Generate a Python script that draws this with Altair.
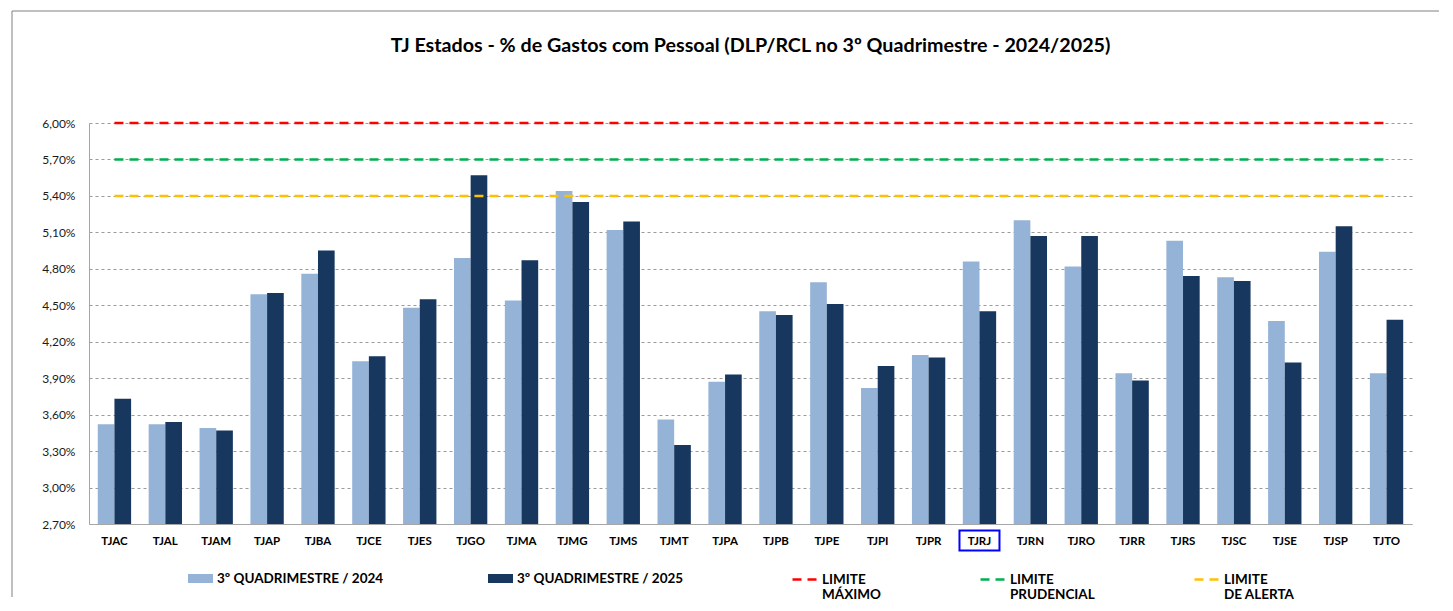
import altair as alt
import pandas as pd

categories = ["TJAC", "TJAL", "TJAM", "TJAP", "TJBA", "TJCE", "TJES", "TJGO", "TJMA",
              "TJMG", "TJMS", "TJMT", "TJPA", "TJPB", "TJPE", "TJPI", "TJPR", "TJRJ",
              "TJRN", "TJRO", "TJRR", "TJRS", "TJSC", "TJSE", "TJSP", "TJTO"]
q2024 = [3.52, 3.52, 3.49, 4.59, 4.76, 4.04, 4.48, 4.89, 4.54, 5.44, 5.12, 3.56, 3.87,
         4.45, 4.69, 3.82, 4.09, 4.86, 5.20, 4.82, 3.94, 5.03, 4.73, 4.37, 4.94, 3.94]
q2025 = [3.73, 3.54, 3.47, 4.60, 4.95, 4.08, 4.55, 5.57, 4.87, 5.35, 5.19, 3.35, 3.93,
         4.42, 4.51, 4.00, 4.07, 4.45, 5.07, 5.07, 3.88, 4.74, 4.70, 4.03, 5.15, 4.38]
series_names = ["3º QUADRIMESTRE / 2024", "3º QUADRIMESTRE / 2025"]
limit_names = ["LIMITE MÁXIMO", "LIMITE PRUDENCIAL", "LIMITE DE ALERTA"]
limit_values = [6.00, 5.70, 5.40]
y_ticks = [2.70, 3.00, 3.30, 3.60, 3.90, 4.20, 4.50, 4.80, 5.10, 5.40, 5.70, 6.00]
highlight = ["TJRJ"]
title_text = "TJ Estados - % de Gastos com Pessoal (DLP/RCL no 3º Quadrimestre - 2024/2025)"

bar_colors = ["#95B3D7", "#17375E"]
limit_colors = ["#FF0000", "#00B050", "#FFC000"]
FONT = "Lato"

bars = pd.DataFrame(
    [{"category": c, "series": series_names[0], "value": v} for c, v in zip(categories, q2024)]
    + [{"category": c, "series": series_names[1], "value": v} for c, v in zip(categories, q2025)]
)
limits = pd.DataFrame(
    [{"category": c, "limite": n, "value": v}
     for n, v in zip(limit_names, limit_values) for c in categories]
)
hl = pd.DataFrame({"category": highlight})

RECT_PATH = "M-1,-0.36H1V0.36H-1Z"

bar_legend = alt.Legend(
    title=None, orient="none", legendX=99, legendY=443, direction="horizontal",
    gridAlign="none", columnPadding=104, symbolSize=625, symbolType=RECT_PATH,
    symbolStrokeWidth=0, labelFont=FONT, labelFontSize=13.5, labelFontWeight="bold",
    labelColor="#000000", labelOffset=4, labelLimit=400, padding=0,
)
line_legend = alt.Legend(
    title=None, orient="none", legendX=702, legendY=443, direction="horizontal",
    gridAlign="none", columnPadding=94, symbolSize=576, symbolType="stroke",
    symbolDash=[9, 6], symbolStrokeWidth=2.5, labelFont=FONT, labelFontSize=13.5,
    labelFontWeight="bold", labelColor="#000000", labelOffset=4, labelLimit=400, padding=0,
    labelExpr="indexof(datum.label, 'LIMITE ') == 0 ? ['LIMITE', substring(datum.label, 7)] : datum.label",
)

x_enc = alt.X("category:N", sort=categories,
              scale=alt.Scale(paddingInner=0.345, paddingOuter=0.1725),
              axis=alt.Axis(title=None, labelAngle=0, labelFont=FONT, labelFontWeight="bold",
                            labelFontSize=11.5, labelColor="#000000", ticks=False,
                            domainColor="#A6A6A6", labelPadding=11, grid=False))
y_scale = alt.Scale(domain=[2.7, 6.0], nice=False, zero=False)
y_enc = alt.Y("value:Q", scale=y_scale,
              axis=alt.Axis(title=None, values=y_ticks, tickCount=len(y_ticks) + 2,
                            ticks=False, grid=True, labelOverlap=False,
                            gridDash=[3, 3], gridColor="#9A9A9A", gridWidth=1,
                            domainColor="#A6A6A6", labelFont=FONT, labelFontSize=12,
                            labelColor="#1A1A1A", labelPadding=14,
                            labelExpr="replace(format(datum.value, '.2f'), '.', ',') + '%'"))

bar_layer = alt.Chart(bars).mark_bar().encode(
    x=x_enc,
    xOffset=alt.XOffset("series:N", sort=series_names,
                        scale=alt.Scale(paddingInner=0, paddingOuter=0)),
    y=y_enc,
    y2=alt.datum(2.7),
    color=alt.Color("series:N", scale=alt.Scale(domain=series_names, range=bar_colors),
                    legend=bar_legend),
)

line_layer = alt.Chart(limits).mark_line(strokeDash=[9, 6], strokeWidth=2.5).encode(
    x=alt.X("category:N", sort=categories),
    y=alt.Y("value:Q"),
    stroke=alt.Stroke("limite:N", scale=alt.Scale(domain=limit_names, range=limit_colors),
                      legend=line_legend),
)

box_layer = alt.Chart(hl).mark_bar(width=40, fill=None, fillOpacity=0, stroke="#0000FF",
                                   strokeWidth=2).encode(
    x=alt.X("category:N", sort=categories),
    y=alt.value(407.5),
    y2=alt.value(427.5),
)

border_left = alt.Chart(hl).mark_rule(color="#808080", strokeWidth=1).encode(
    x=alt.value(-77), y=alt.value(-112), y2=alt.value(474))
border_top = alt.Chart(hl).mark_rule(color="#808080", strokeWidth=1).encode(
    x=alt.value(-77), x2=alt.value(1350), y=alt.value(-112))

chart = alt.layer(border_left, border_top, bar_layer, line_layer, box_layer).resolve_scale(
    color="independent", stroke="independent"
).properties(
    width=1323, height=401, background="#FFFFFF",
    title=alt.Title(title_text, font=FONT, fontSize=19.7, fontWeight="bold", color="#000000",
                    anchor="middle", frame="group", baseline="middle", offset=-55),
    padding={"left": 3, "top": 2, "right": 0, "bottom": 0},
).configure_view(stroke=None, strokeWidth=0)

chart.save("out.html", embed_options={"renderer": "svg", "actions": False})
